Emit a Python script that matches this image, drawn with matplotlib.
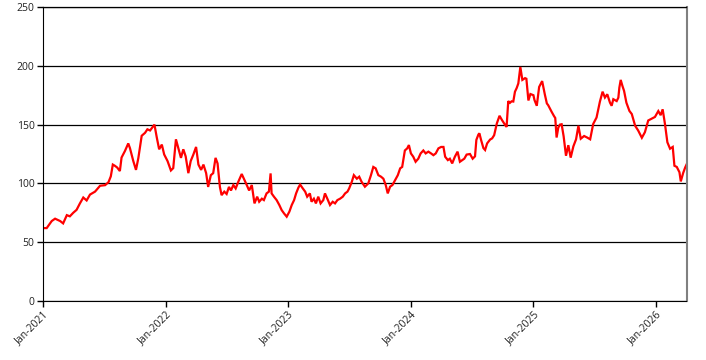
import matplotlib
matplotlib.use('Agg')
import matplotlib.pyplot as plt
import pandas as pd

# values (approx. every 1-2 weeks)
dates = [
    '2021-01-01', '2021-01-12', '2021-01-27', '2021-02-06', '2021-02-21', '2021-03-02',
    '2021-03-13', '2021-03-22', '2021-04-01', '2021-04-11', '2021-04-21', '2021-05-01',
    '2021-05-11', '2021-05-21', '2021-06-05', '2021-06-20', '2021-07-05', '2021-07-15',
    '2021-07-22', '2021-07-28', '2021-08-03', '2021-08-10', '2021-08-18', '2021-08-23',
    '2021-09-02', '2021-09-12', '2021-09-17', '2021-09-27', '2021-10-05', '2021-10-12',
    '2021-10-22', '2021-11-01', '2021-11-08', '2021-11-16', '2021-11-29', '2021-12-06',
    '2021-12-13', '2021-12-21', '2021-12-28',
    '2022-01-07', '2022-01-17', '2022-01-24', '2022-02-01', '2022-02-08', '2022-02-16',
    '2022-02-23', '2022-03-02', '2022-03-10', '2022-03-17', '2022-03-25', '2022-04-02',
    '2022-04-09', '2022-04-17', '2022-04-24', '2022-05-02', '2022-05-08', '2022-05-16',
    '2022-05-23', '2022-05-30', '2022-06-05', '2022-06-12', '2022-06-17', '2022-06-25',
    '2022-07-02', '2022-07-09', '2022-07-15', '2022-07-22', '2022-07-29', '2022-08-06',
    '2022-08-16', '2022-08-24', '2022-08-31', '2022-09-07', '2022-09-15', '2022-09-23',
    '2022-10-01', '2022-10-07', '2022-10-15', '2022-10-21', '2022-10-29', '2022-11-05',
    '2022-11-10', '2022-11-13', '2022-11-20', '2022-11-28', '2022-12-06', '2022-12-13',
    '2022-12-20', '2022-12-28',
    '2023-01-05', '2023-01-12', '2023-01-19', '2023-01-25', '2023-02-01', '2023-02-06',
    '2023-02-14', '2023-02-21', '2023-02-27', '2023-03-07', '2023-03-12', '2023-03-19',
    '2023-03-25', '2023-04-01', '2023-04-08', '2023-04-16', '2023-04-21', '2023-04-28',
    '2023-05-06', '2023-05-14', '2023-05-21', '2023-05-28', '2023-06-05', '2023-06-13',
    '2023-06-20', '2023-06-27', '2023-07-02', '2023-07-10', '2023-07-16', '2023-07-25',
    '2023-08-01', '2023-08-08', '2023-08-18', '2023-08-28', '2023-09-05', '2023-09-12',
    '2023-09-19', '2023-09-27', '2023-10-05', '2023-10-12', '2023-10-19', '2023-10-25',
    '2023-11-01', '2023-11-08', '2023-11-16', '2023-11-24', '2023-12-01', '2023-12-07',
    '2023-12-15', '2023-12-22', '2023-12-27',
    '2024-01-02', '2024-01-09', '2024-01-16', '2024-01-24', '2024-01-31', '2024-02-08',
    '2024-02-15', '2024-02-23', '2024-03-02', '2024-03-09', '2024-03-16', '2024-03-24',
    '2024-04-01', '2024-04-08', '2024-04-13', '2024-04-21', '2024-04-27', '2024-05-04',
    '2024-05-12', '2024-05-20', '2024-05-27', '2024-06-03', '2024-06-09', '2024-06-16',
    '2024-06-26', '2024-07-04', '2024-07-11', '2024-07-15', '2024-07-21', '2024-07-24',
    '2024-07-29', '2024-08-05', '2024-08-10', '2024-08-16', '2024-08-25', '2024-08-31',
    '2024-09-06', '2024-09-14', '2024-09-22', '2024-09-29', '2024-10-08', '2024-10-13',
    '2024-10-18', '2024-10-23', '2024-10-28', '2024-11-02', '2024-11-07', '2024-11-12',
    '2024-11-17', '2024-11-23', '2024-11-29', '2024-12-07', '2024-12-11', '2024-12-17',
    '2024-12-23',
    '2025-01-01', '2025-01-04', '2025-01-11', '2025-01-18', '2025-01-27', '2025-02-04',
    '2025-02-10', '2025-02-14', '2025-02-24', '2025-03-03', '2025-03-07', '2025-03-11',
    '2025-03-16', '2025-03-21', '2025-03-26', '2025-04-01', '2025-04-08', '2025-04-15',
    '2025-04-22', '2025-04-30', '2025-05-08', '2025-05-15', '2025-05-22', '2025-06-01',
    '2025-06-10', '2025-06-19', '2025-06-28', '2025-07-08', '2025-07-18', '2025-07-26',
    '2025-08-02', '2025-08-09', '2025-08-17', '2025-08-22', '2025-08-27', '2025-09-06',
    '2025-09-11', '2025-09-14', '2025-09-18', '2025-09-23', '2025-09-28', '2025-10-05',
    '2025-10-14', '2025-10-21', '2025-10-31', '2025-11-09', '2025-11-20', '2025-11-29',
    '2025-12-09', '2025-12-19', '2025-12-29',
    '2026-01-08', '2026-01-15', '2026-01-21', '2026-01-28', '2026-02-04', '2026-02-12',
    '2026-02-20', '2026-02-25', '2026-03-04', '2026-03-12', '2026-03-16', '2026-03-23',
    '2026-03-29', '2026-04-02',
]

values = [
    62, 62, 68, 70, 68, 66,
    73, 72, 75, 77.5, 83, 88,
    85.5, 90.5, 93, 98, 98.5, 101,
    106, 116, 115, 113.5, 110.5, 122,
    127.5, 134, 130, 119, 111.5, 121.5,
    140.5, 143, 146, 145, 150, 139,
    129, 133, 124.6,
    119, 111, 113, 137.5, 130, 121.7,
    129, 123, 108.7, 119, 124.6, 131,
    116, 111.5, 116, 108.7, 97, 107,
    108.7, 121.7, 117, 97, 90, 93,
    91, 97, 94, 98.6, 95.7, 101.5,
    108, 103, 98.6, 94, 98.6, 83,
    88.7, 84.4, 87, 85.8, 91.5, 93,
    108.5, 91.5, 88.7, 85.8, 81.6, 77.3,
    74.5, 71.7,
    76, 81.6, 85.8, 91.5, 96.5, 99,
    95.7, 93, 88.7, 91.5, 84.4, 87,
    83, 88.7, 83, 85.8, 91.5, 87,
    81.6, 84.4, 83, 85.8, 87, 88.7,
    91.5, 93, 95.7, 101.4, 107, 104,
    105.7, 101.4, 97.2, 100, 107, 114,
    112.8, 107, 105.7, 104, 98.6, 91.5,
    97.2, 98.6, 102.8, 107, 112.8, 114,
    128, 129.8, 132.6,
    125.5, 122.7, 118.4, 121, 125.5, 128,
    125.5, 127, 125.5, 124, 125.5, 129.8,
    131, 131, 122.7, 119.8, 121, 117,
    122.7, 127, 118.4, 119.8, 121, 124.5,
    125, 121, 123, 137, 141.5, 142.6,
    137, 130, 128.4, 134, 137.3, 138.3,
    141, 151, 157.5, 154, 150, 148,
    170, 168.5, 169.8, 169.6, 178, 181,
    185, 199, 188, 189.5, 189, 170.5,
    176,
    175, 171, 166, 182, 187, 175.6,
    168, 166.5, 161, 157.4, 155.6, 139,
    147.4, 150, 150.3, 140, 123.5, 132.5,
    121.9, 131.5, 137.5, 149, 138, 140.3,
    139, 137.5, 150.5, 156, 169.5, 178,
    173, 175.8, 168.7, 166, 171.6, 170,
    172.9, 181.5, 188, 183, 178.7, 168.6,
    161.6, 159, 149, 145, 138.8, 143.5,
    153.5, 155, 156.5,
    161.5, 158, 163, 150.2, 135, 129.5,
    131, 115, 114, 109.5, 101.7, 108.8,
    113.5, 116,
]

tick_dates = ['2021-01-01', '2022-01-01', '2023-01-01', '2024-01-01', '2025-01-01', '2026-01-01']
tick_labels = ['Jan-2021', 'Jan-2022', 'Jan-2023', 'Jan-2024', 'Jan-2025', 'Jan-2026']
y_ticks = [0, 50, 100, 150, 200, 250]

x = pd.to_datetime(dates)

plt.rcParams['font.family'] = ['Open Sans', 'DejaVu Sans']

fig = plt.figure(figsize=(7.06, 3.6), dpi=100)
ax = fig.add_axes([43 / 706, 1 - 301 / 360, (686.5 - 43) / 706, (301 - 7) / 360])

ax.plot(x, values, color='#ff0000', lw=1.6, solid_joinstyle='miter')

ax.set_xlim(x[0], x[-1])
ax.set_ylim(0, 250)
ax.set_yticks(y_ticks)
ax.set_xticks(pd.to_datetime(tick_dates))
ax.set_xticklabels(tick_labels, rotation=45, ha='right', rotation_mode='anchor')

ax.grid(axis='y', color='black', lw=0.9)
ax.set_axisbelow(True)
ax.tick_params(axis='both', direction='out', length=4, width=1, color='black',
               labelsize=7.5, labelcolor='#222222', pad=2)

ax.spines['left'].set_color('black')
ax.spines['bottom'].set_color('black')
ax.spines['top'].set_color('black')
ax.spines['top'].set_linewidth(0.9)
ax.spines['right'].set_color('#808080')
ax.spines['right'].set_linewidth(1.5)

fig.savefig('out.png', dpi=100)
